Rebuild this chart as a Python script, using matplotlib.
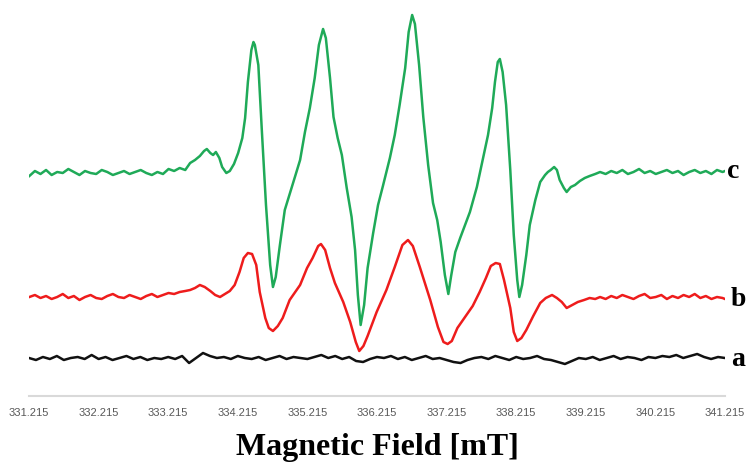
import matplotlib
matplotlib.use("Agg")
import matplotlib.pyplot as plt

# -----------------------------
# EPR spectra (a.u., stacked), field in mT
# -----------------------------
base_left = [331.22, 331.30, 331.38, 331.46, 331.54, 331.62, 331.70, 331.78, 331.86, 331.94,
             332.02, 332.10, 332.18, 332.26, 332.34, 332.42, 332.50, 332.58, 332.66, 332.74,
             332.82, 332.90, 332.98, 333.06, 333.14, 333.22, 333.30, 333.38, 333.46]
base_right = [339.50, 339.58, 339.66, 339.74, 339.82, 339.90, 339.98, 340.06, 340.14, 340.22,
              340.30, 340.38, 340.46, 340.54, 340.62, 340.70, 340.78, 340.86, 340.94, 341.02,
              341.10, 341.18, 341.215]

# trace c (green)
c_mid_field = [333.53, 333.60, 333.67, 333.73, 333.77, 333.82, 333.86, 333.90, 333.95, 333.99,
               334.05, 334.10, 334.16, 334.22, 334.28, 334.32, 334.36, 334.41, 334.44, 334.46,
               334.51, 334.56, 334.62, 334.68, 334.72, 334.76, 334.82, 334.89, 334.97, 335.04,
               335.11, 335.18, 335.25, 335.32, 335.38, 335.44, 335.48, 335.54, 335.59, 335.65,
               335.71, 335.78, 335.85, 335.90, 335.94, 335.98, 336.03, 336.08, 336.16, 336.23,
               336.30, 336.40, 336.47, 336.54, 336.62, 336.67, 336.72, 336.76, 336.82, 336.88,
               336.95, 337.02, 337.08, 337.13, 337.19, 337.24, 337.28, 337.34, 337.41, 337.48,
               337.55, 337.65, 337.74, 337.81, 337.87, 337.91, 337.95, 337.98, 338.02, 338.07,
               338.13, 338.18, 338.23, 338.26, 338.30, 338.36, 338.41, 338.49, 338.56, 338.63,
               338.67, 338.71, 338.76, 338.80, 338.84, 338.90, 338.94, 339.00, 339.06, 339.13,
               339.20, 339.27, 339.35, 339.42]
c_left = [220, 225, 222, 226, 221, 224, 223, 227, 224, 221, 225, 223, 222, 226, 224,
          221, 223, 225, 222, 224, 226, 223, 221, 224, 222, 227, 225, 228, 226]
c_mid = [233, 236, 240, 245, 247, 243, 241, 244, 238, 229,
         223, 225, 232, 243, 258, 278, 314, 346, 354, 351,
         331, 266, 191, 131, 109, 119, 151, 186, 204, 220,
         236, 264, 288, 318, 351, 367, 358, 318, 279, 258,
         241, 208, 179, 146, 101, 71, 91, 128, 163, 191,
         210, 238, 261, 291, 328, 364, 381, 372, 331, 279,
         231, 193, 176, 154, 121, 102, 120, 144, 158, 171,
         184, 209, 238, 261, 288, 314, 334, 337, 324, 291,
         226, 161, 116, 99, 111, 141, 171, 196, 214, 221,
         224, 226, 229, 226, 216, 208, 204, 209, 211, 215,
         218, 220, 222, 224]
c_right = [222, 225, 223, 226, 222, 224, 227, 223, 225, 222, 224, 226,
           223, 225, 221, 224, 226, 223, 225, 222, 226, 224, 225]

# trace b (red)
b_mid_field = [333.53, 333.60, 333.67, 333.74, 333.82, 333.89, 333.96, 334.03, 334.10, 334.17,
               334.24, 334.30, 334.36, 334.42, 334.48, 334.53, 334.61, 334.66, 334.72, 334.79,
               334.86, 334.96, 335.11, 335.21, 335.29, 335.37, 335.41, 335.47, 335.54, 335.61,
               335.73, 335.83, 335.91, 335.96, 336.02, 336.08, 336.21, 336.35, 336.47, 336.58,
               336.66, 336.73, 336.83, 336.98, 337.09, 337.17, 337.23, 337.29, 337.37, 337.47,
               337.59, 337.69, 337.78, 337.85, 337.92, 337.98, 338.04, 338.13, 338.18, 338.23,
               338.29, 338.36, 338.46, 338.56, 338.64, 338.73, 338.80, 338.87, 338.94, 339.02,
               339.10, 339.19, 339.27, 339.35, 339.42]
b_left = [99, 101, 98, 100, 97, 99, 102, 98, 100, 96, 99, 101, 98, 97, 100,
          102, 99, 98, 101, 99, 97, 100, 102, 99, 101, 103, 102, 104, 105]
b_mid = [106, 108, 111, 109, 105, 101, 99, 102, 105, 111,
         124, 138, 143, 142, 131, 104, 78, 68, 65, 70,
         78, 96, 111, 128, 138, 150, 152, 146, 128, 113,
         94, 74, 54, 45, 50, 60, 84, 106, 129, 151,
         156, 150, 129, 96, 69, 54, 52, 55, 68, 78,
         90, 104, 118, 130, 133, 132, 116, 88, 64, 55,
         58, 66, 80, 93, 98, 101, 98, 94, 88, 91,
         94, 96, 98, 97, 99]
b_right = [97, 100, 98, 101, 99, 97, 100, 102, 98, 99, 101, 97,
           100, 98, 101, 99, 102, 98, 100, 97, 99, 98, 97]

# trace a (black), 0.1 mT steps
a_field = [331.215, 331.315, 331.415, 331.515, 331.615, 331.715, 331.815, 331.915, 332.015, 332.115,
           332.215, 332.315, 332.415, 332.515, 332.615, 332.715, 332.815, 332.915, 333.015, 333.115,
           333.215, 333.315, 333.415, 333.515, 333.615, 333.715, 333.815, 333.915, 334.015, 334.115,
           334.215, 334.315, 334.415, 334.515, 334.615, 334.715, 334.815, 334.915, 335.015, 335.115,
           335.215, 335.315, 335.415, 335.515, 335.615, 335.715, 335.815, 335.915, 336.015, 336.115,
           336.215, 336.315, 336.415, 336.515, 336.615, 336.715, 336.815, 336.915, 337.015, 337.115,
           337.215, 337.315, 337.415, 337.515, 337.615, 337.715, 337.815, 337.915, 338.015, 338.115,
           338.215, 338.315, 338.415, 338.515, 338.615, 338.715, 338.815, 338.915, 339.015, 339.115,
           339.215, 339.315, 339.415, 339.515, 339.615, 339.715, 339.815, 339.915, 340.015, 340.115,
           340.215, 340.315, 340.415, 340.515, 340.615, 340.715, 340.815, 340.915, 341.015, 341.115,
           341.215]
a_int = [38, 36, 39, 37, 40, 36, 38, 39, 37, 41,
         37, 39, 36, 38, 40, 37, 39, 36, 38, 37,
         39, 37, 40, 33, 38, 43, 40, 38, 39, 37,
         40, 38, 37, 39, 36, 38, 40, 37, 39, 38,
         37, 39, 41, 38, 40, 37, 39, 35, 34, 37,
         39, 38, 40, 37, 39, 36, 38, 40, 37, 38,
         36, 34, 33, 36, 38, 39, 37, 40, 38, 36,
         39, 37, 38, 40, 37, 36, 34, 32, 35, 38,
         37, 39, 36, 38, 40, 37, 39, 38, 36, 39,
         38, 40, 39, 41, 38, 40, 42, 39, 37, 39,
         38]

tick_vals = [331.215, 332.215, 333.215, 334.215, 335.215, 336.215,
             337.215, 338.215, 339.215, 340.215, 341.215]
tick_labels = ["331.215", "332.215", "333.215", "334.215", "335.215", "336.215",
               "337.215", "338.215", "339.215", "340.215", "341.215"]

# -----------------------------
# Plot
# -----------------------------
fig = plt.figure(figsize=(7.48, 4.66), dpi=100)
ax = fig.add_axes([29 / 748, 70 / 466, 696 / 748, 396 / 466])

ax.plot(base_left + c_mid_field + base_right, c_left + c_mid + c_right,
        color="#1faa58", lw=1.8, solid_joinstyle="round")
ax.plot(base_left + b_mid_field + base_right, b_left + b_mid + b_right,
        color="#ee1c1c", lw=1.8, solid_joinstyle="round")
ax.plot(a_field, a_int, color="#111111", lw=1.8, solid_joinstyle="round")

ax.set_xlim(331.215, 341.215)
ax.set_ylim(0, 396)
for s in ["top", "right", "left"]:
    ax.spines[s].set_visible(False)
ax.spines["bottom"].set_color("#d9d9d9")
ax.spines["bottom"].set_linewidth(1.5)
ax.set_yticks([])
ax.set_xticks(tick_vals)
ax.set_xticklabels(tick_labels, fontsize=8, color="#595959", family="Liberation Sans")
ax.tick_params(axis="x", length=0, pad=9)

lab_font = dict(family="Liberation Serif", fontweight="bold", fontsize=20,
                va="center", ha="left", clip_on=False)
ax.text(341.25, 224, "c", **lab_font)
ax.text(341.29, 97, "b", **lab_font)
ax.text(341.31, 37, "a", **lab_font)

fig.text(377 / 748, 11 / 466, "Magnetic Field [mT]", family="Liberation Serif",
         fontweight="bold", fontsize=23, ha="center", va="baseline")

fig.savefig("out.png", dpi=100)
